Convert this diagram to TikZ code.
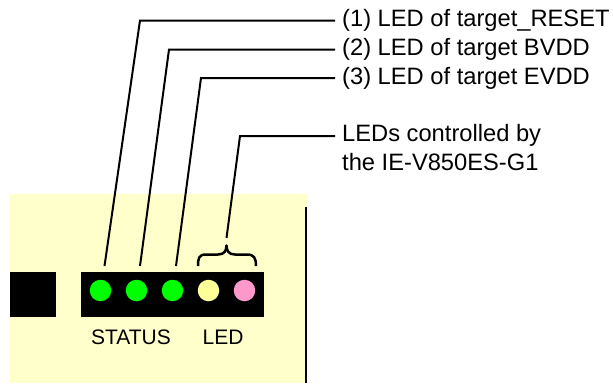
\documentclass[tikz,border=0pt]{standalone}
\usepackage{fontspec}
\setmainfont{Liberation Sans}
\definecolor{boardyellow}{HTML}{FFFFCC}
\definecolor{ledyellow}{HTML}{FFFF99}
\definecolor{ledpink}{HTML}{FF99CC}
\begin{document}
\begin{tikzpicture}[x=1pt,y=-1pt]

% definitions
\tikzstyle{board} = [rectangle, fill=boardyellow, draw=none, minimum width=297pt, minimum height=189pt, inner sep=0pt]
\tikzstyle{panel} = [rectangle, fill=black, draw=none, minimum height=45pt, inner sep=0pt]
\tikzstyle{lamp} = [circle, minimum size=21.5pt, inner sep=0pt, draw=none]
\tikzstyle{callout} = [anchor=west, inner xsep=7pt, inner ysep=0pt, text height=17pt, text depth=5pt, font=\fontsize{23.7}{29}\selectfont]
\tikzstyle{caption} = [inner sep=0pt, font=\fontsize{21}{24}\selectfont]
\tikzstyle{leader} = [line width=2pt, line join=miter]

\useasboundingbox (0,0) rectangle (613,383);

% the board
\node (brd) [board] at (158.5,288.5) {};
\node (edge) [rectangle, fill=black, minimum width=2pt, minimum height=176pt, inner sep=0pt] at (306,295) {};
\node (block) [panel, minimum width=46pt] at (32.5,294.5) {};
\node (bar) [panel, minimum width=183pt] at (172.5,294.5) {};

% the lamps
\node (s1) [lamp, fill=green] at (100.5,290.5) {};
\node (s2) [lamp, fill=green] at (136.5,290.5) {};
\node (s3) [lamp, fill=green] at (172.5,290.5) {};
\node (l1) [lamp, fill=ledyellow] at (208.5,290.5) {};
\node (l2) [lamp, fill=ledpink] at (244.5,290.5) {};

\node (status) [caption] at (131,337) {STATUS};
\node (led) [caption] at (223,337) {LED};

% the labels
\node (t1) [callout] at (335,20.5) {(1) LED of target\_RESET};
\node (t2) [callout] at (335,49.5) {(2) LED of target BVDD};
\node (t3) [callout] at (335,78) {(3) LED of target EVDD};
\node (t4) [callout, align=left, text height=, text depth=, anchor=north west] at (335,124) {LEDs controlled by\\the IE-V850ES-G1};

% the brace
\coordinate (btip) at (226.5,245.5);
\draw [line width=2.5pt, line join=round] (198,266) .. controls (198,258) and (199,254.5) .. (206,254.5) -- (218,254.5) .. controls (224,254.5) and (226.5,251) .. (btip) .. controls (226.5,251) and (229,254.5) .. (235,254.5) -- (247,254.5) .. controls (254,254.5) and (256,258) .. (256,266);

% the leaders
\coordinate (c1) at (140,20.5);
\coordinate (c2) at (169,49.5);
\coordinate (c3) at (201,78);
\coordinate (c4) at (240,136);
\coordinate (e1) at (104.5,266);
\coordinate (e2) at (140,266);
\coordinate (e3) at (176,266);
\coordinate (e4) at (226.5,238);

\draw [leader] (t1.west) -- (c1) -- (e1);
\draw [leader] (t2.west) -- (c2) -- (e2);
\draw [leader] (t3.west) -- (c3) -- (e3);
\draw [leader] (t4.north west |- c4) -- (c4) -- (e4);

\end{tikzpicture}
\end{document}
